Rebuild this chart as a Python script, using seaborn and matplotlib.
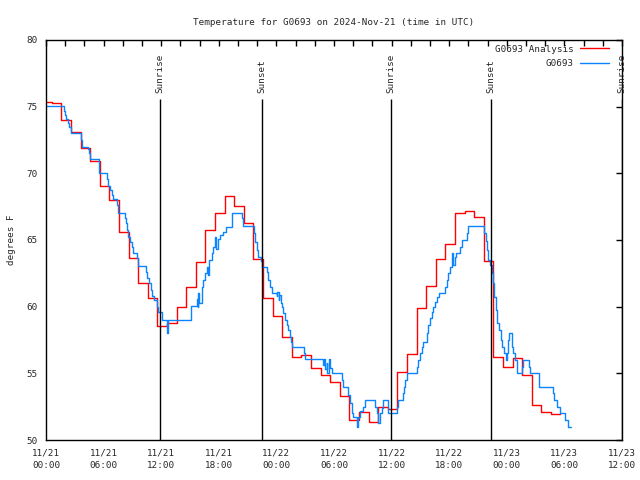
import matplotlib
matplotlib.use('Agg')
import matplotlib.pyplot as plt
import seaborn as sns
import pandas as pd

# hours since 11/21 00:00 UTC
red_hours = [0.0, 0.6, 1.6, 2.6, 3.6, 4.6, 5.6, 6.6, 7.6, 8.6, 9.6,
             10.6, 11.6, 12.6, 13.6, 14.6, 15.6, 16.6, 17.6, 18.6, 19.6,
             20.6, 21.6, 22.6, 23.6, 24.6, 25.6, 26.6, 27.6, 28.6, 29.6,
             30.6, 31.6, 32.6, 33.6, 34.6, 35.6, 36.6, 37.6, 38.6, 39.6,
             40.6, 41.6, 42.6, 43.6, 44.6, 45.6, 46.6, 47.6, 48.6, 49.6,
             50.6, 51.6, 52.6, 53.5]
red_temps = [75.33, 75.25, 74.0, 73.1, 71.9, 70.95, 69.07, 68.0, 65.63, 63.63, 61.8,
             60.63, 58.55, 58.8, 60.0, 61.45, 63.35, 65.75, 67.0, 68.3, 67.57,
             66.25, 63.55, 60.63, 59.3, 57.7, 56.25, 56.4, 55.38, 54.88, 54.38,
             53.33, 51.5, 52.13, 51.38, 52.5, 52.35, 55.13, 56.45, 59.88, 61.58,
             63.55, 64.7, 67.0, 67.2, 66.75, 63.43, 56.2, 55.5, 56.13, 54.88,
             52.63, 52.13, 51.95, 51.95]

blue_hours = [0.0, 1.88, 1.98, 2.08, 2.32, 2.43, 2.57, 3.61, 3.72, 4.41, 4.51, 4.58,
              5.55, 6.39, 6.49, 6.67, 6.84, 6.95, 7.43, 7.53, 8.23, 8.33, 8.47, 8.57,
              8.75, 8.93, 9.09, 9.51, 9.62, 10.42, 10.55, 10.76, 10.94, 11.09, 11.25,
              11.53, 11.7, 12.05, 12.57, 12.76, 15.07, 15.7, 15.8, 15.86, 15.97, 16.22,
              16.39, 16.56, 16.74, 16.91, 16.98, 17.26, 17.43, 17.6, 17.71, 17.95, 18.13,
              18.47, 18.75, 19.34, 20.39, 20.55, 21.67, 21.77, 21.95, 22.11, 22.4, 22.53,
              22.99, 23.16, 23.33, 23.51, 24.03, 24.11, 24.22, 24.3, 24.43, 24.55, 24.72,
              24.9, 25.07, 25.24, 25.42, 25.52, 25.59, 26.88, 26.98, 28.89, 29.01, 29.11,
              29.24, 29.32, 29.45, 29.58, 29.76, 30.8, 30.97, 31.49, 31.67, 31.84, 32.01,
              32.36, 32.45, 32.71, 32.97, 33.23, 34.27, 34.45, 34.61, 34.79, 34.97, 35.14,
              35.66, 36.53, 36.64, 37.16, 37.29, 37.4, 37.57, 38.68, 38.78, 38.96, 39.14,
              39.3, 39.66, 39.82, 40.0, 40.18, 40.34, 40.52, 40.7, 40.97, 41.56, 41.74,
              41.91, 42.08, 42.26, 42.43, 42.6, 42.71, 43.13, 43.3, 43.82, 43.99, 45.66,
              45.83, 45.97, 46.07, 46.25, 46.43, 46.53, 46.7, 46.84, 47.01, 47.19, 47.36,
              47.53, 47.71, 47.89, 48.0, 48.16, 48.26, 48.57, 48.68, 48.85, 49.03, 49.09,
              49.55, 49.72, 50.31, 50.42, 51.35, 52.78, 52.92, 53.23, 53.54, 54.06, 54.41,
              54.66]
blue_temps = [75.08, 74.7, 74.38, 74.05, 73.75, 73.45, 73.0, 72.5, 72.0, 71.8, 71.5, 71.05,
              70.0, 69.55, 69.07, 68.75, 68.38, 68.05, 67.6, 67.0, 66.63, 66.25, 65.75, 65.25,
              64.88, 64.5, 64.0, 63.63, 63.05, 62.63, 62.13, 61.75, 61.25, 60.8, 60.5,
              60.0, 59.63, 59.0, 58.0, 59.0, 60.05, 60.6, 60.0, 61.0, 60.3, 61.5,
              62.0, 62.5, 63.0, 62.4, 63.5, 64.0, 64.5, 65.2, 64.3, 65.1, 65.4,
              65.6, 66.0, 67.0, 66.63, 66.05, 65.5, 64.88, 64.25, 63.7, 63.4, 63.0,
              62.63, 62.0, 61.5, 61.05, 60.8, 61.1, 60.5, 60.9, 60.3, 60.0, 59.5,
              59.0, 58.63, 58.25, 57.75, 57.38, 56.95, 56.5, 56.05, 55.6, 56.05, 55.3,
              55.8, 55.0, 56.05, 55.4, 55.0, 54.5, 54.0, 53.38, 52.75, 52.0, 51.75,
              51.0, 51.75, 52.2, 52.5, 53.0, 52.5, 52.0, 51.25, 52.0, 52.4, 53.0,
              52.05, 52.5, 53.0, 53.5, 54.0, 54.5, 55.0, 55.5, 56.0, 56.5, 57.0,
              57.38, 58.0, 58.63, 59.13, 59.63, 60.0, 60.38, 60.75, 61.0, 61.5, 62.0,
              62.5, 63.0, 64.0, 63.1, 63.75, 64.0, 64.5, 65.0, 65.5, 66.05, 65.5,
              64.9, 64.25, 63.5, 63.13, 62.5, 61.75, 60.75, 59.75, 58.75, 58.25, 57.5,
              57.0, 56.5, 56.0, 56.5, 57.5, 58.0, 57.0, 56.5, 56.0, 55.63, 55.0,
              55.5, 56.0, 55.5, 55.0, 54.0, 53.5, 53.0, 52.5, 52.0, 51.5, 51.0,
              51.0]

sun_hours = [11.875, 22.5, 35.94, 46.35, 59.97]
sun_labels = ['Sunrise', 'Sunset', 'Sunrise', 'Sunset', 'Sunrise']

tick_hours = [0, 6, 12, 18, 24, 30, 36, 42, 48, 54, 60]
tick_labels = ['11/21\n00:00', '11/21\n06:00', '11/21\n12:00', '11/21\n18:00',
               '11/22\n00:00', '11/22\n06:00', '11/22\n12:00', '11/22\n18:00',
               '11/23\n00:00', '11/23\n06:00', '11/23\n12:00']

FS = 6.7

sns.set_style('white')
plt.rcParams['font.family'] = ['DejaVu Sans Mono']
plt.rcParams['font.size'] = FS

red = pd.DataFrame({'hour': red_hours, 'temp': red_temps})
blue = pd.DataFrame({'hour': blue_hours, 'temp': blue_temps})

fig = plt.figure(figsize=(6.4, 4.8), dpi=100)
ax = fig.add_axes([46 / 640, 40 / 480, 576 / 640, 400 / 480])

sns.lineplot(data=red, x='hour', y='temp', ax=ax, color='#ff0000', lw=1,
             drawstyle='steps-post', estimator=None, label='G0693 Analysis')
sns.lineplot(data=blue, x='hour', y='temp', ax=ax, color='#0a84ff', lw=1,
             drawstyle='steps-post', estimator=None, label='G0693')

ax.vlines(sun_hours, 50, 75.55, color='black', lw=1)
for h, lab in zip(sun_hours, sun_labels):
    ax.text(h, 76.05, lab, rotation=90, ha='center', va='bottom', fontsize=FS)

ax.set_xlim(0, 60)
ax.set_ylim(50, 80)
ax.set_xticks(tick_hours)
ax.set_xticklabels(tick_labels, linespacing=1.5)
ax.set_xticks(range(0, 61, 2), minor=True)
ax.set_yticks(range(50, 81, 5))
ax.tick_params(which='both', direction='in', top=True, right=True,
               length=4, width=1, color='black', labelsize=FS)
ax.tick_params(axis='x', pad=6)
ax.tick_params(axis='y', pad=6)
for s in ax.spines.values():
    s.set_color('black')
    s.set_linewidth(1)

ax.set_xlabel('')
ax.set_ylabel('degrees F', fontsize=FS)
ax.yaxis.set_label_coords(-0.052, 0.5)
ax.set_title('Temperature for G0693 on 2024-Nov-21 (time in UTC)', fontsize=FS, pad=11)

ax.legend(loc='upper right', bbox_to_anchor=(614 / 640, 1 - 40 / 480),
          bbox_transform=fig.transFigure, frameon=False, markerfirst=False,
          handlelength=3.2, handletextpad=0.6, labelspacing=0.6, borderpad=0,
          fontsize=FS)

fig.savefig('out.png', dpi=100)
